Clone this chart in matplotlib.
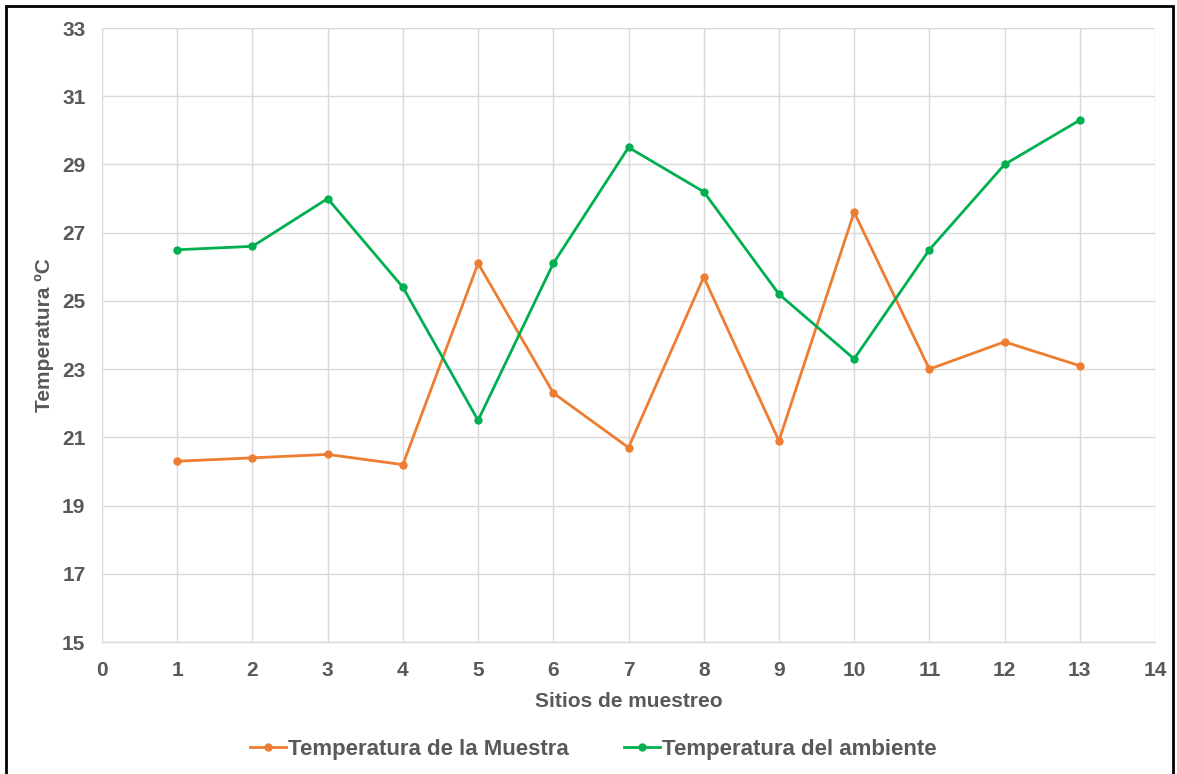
import matplotlib.pyplot as plt
from matplotlib.patches import Rectangle

plt.rcParams['font.family'] = ['Liberation Sans', 'DejaVu Sans']
plt.rcParams['font.weight'] = 'bold'
plt.rcParams['axes.labelweight'] = 'bold'

sitios = [1, 2, 3, 4, 5, 6, 7, 8, 9, 10, 11, 12, 13]
temp_muestra = [20.3, 20.4, 20.5, 20.2, 26.1, 22.3, 20.7, 25.7, 20.9, 27.6, 23.0, 23.8, 23.1]
temp_ambiente = [26.5, 26.6, 28.0, 25.4, 21.5, 26.1, 29.5, 28.2, 25.2, 23.3, 26.5, 29.0, 30.3]

gris = '#595959'

fig = plt.figure(figsize=(11.77, 7.74), dpi=100)
ax = fig.add_axes([0.0867, 0.1705, 0.8946, 0.7933])

ax.plot(sitios, temp_muestra, color='#ED7D31', linewidth=2.0, marker='o', markersize=5,
        label='Temperatura de la Muestra')
ax.plot(sitios, temp_ambiente, color='#00B050', linewidth=2.0, marker='o', markersize=5,
        label='Temperatura del ambiente')

ax.set_xlim(0, 14)
ax.set_ylim(15, 33)
ax.set_xticks(range(0, 15))
ax.set_yticks(range(15, 34, 2))
ax.grid(True, color='#D9D9D9', linewidth=1)
ax.set_axisbelow(True)
for s in ['top', 'right', 'left']:
    ax.spines[s].set_visible(False)
ax.spines['bottom'].set_color('#D9D9D9')
ax.spines['bottom'].set_linewidth(1)
ax.tick_params(length=0, labelsize=15, labelcolor=gris)
ax.tick_params(axis='x', pad=14)
ax.tick_params(axis='y', pad=12)

ax.set_xlabel('Sitios de muestreo', fontsize=15, color=gris, labelpad=8)
ax.set_ylabel('Temperatura ºC', fontsize=15, color=gris, labelpad=6)

fig.legend(loc='center', bbox_to_anchor=(0.504, 0.032), ncol=2, frameon=False,
           fontsize=16, labelcolor=gris, handlelength=1.6, handletextpad=0.1,
           columnspacing=2.5)

# marco exterior
fig.patches.append(Rectangle((0.005, -0.01), 0.992, 1.002, transform=fig.transFigure,
                             fill=False, edgecolor='black', linewidth=2))

fig.savefig('out.png', dpi=100)
